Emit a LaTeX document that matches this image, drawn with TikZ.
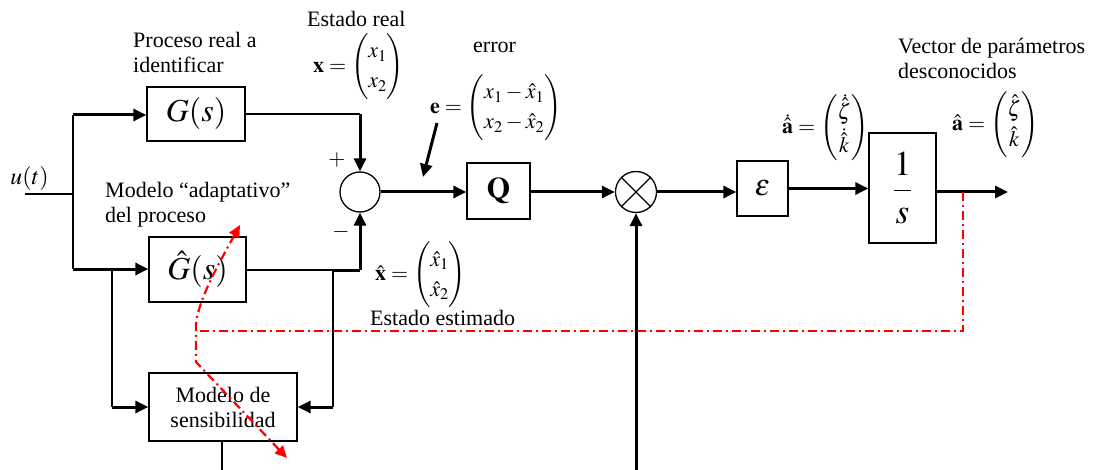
\documentclass[tikz,border=0pt]{standalone}
\usepackage{amsmath}
\usepackage{mathptmx}
\usepackage{fontspec}
\setmainfont{Liberation Serif}
\usetikzlibrary{arrows.meta}

\tikzset{
  thinln/.style={line width=1.3pt},
  thickarr/.style={line width=3pt, -{Triangle[length=13pt,width=12pt]}},
  blk/.style={draw, line width=1.3pt, inner sep=0pt, fill=white},
  junc/.style={draw, circle, line width=1.3pt, inner sep=0pt, minimum size=40pt, fill=white},
  lbl/.style={inner sep=0pt, align=left},
  tuning/.style={draw=red, line width=2.2pt, dash pattern=on 9pt off 4pt on 2pt off 4pt,
                 {Triangle[length=12pt,width=11pt,fill=red]}-{Triangle[length=12pt,width=11pt,fill=red]}},
  redln/.style={draw=red, line width=2.2pt, dash pattern=on 9pt off 4pt on 2pt off 4pt},
  big/.style={font=\fontsize{32}{36}\selectfont}
}

\begin{document}
\begin{tikzpicture}[x=1pt, y=-1pt, every node/.style={font=\fontsize{22}{25}\selectfont}]
\renewcommand{\arraystretch}{1.2}
\useasboundingbox (0,0) rectangle (1099,470);

% blocks
\node[blk, big, minimum width=98pt, minimum height=54pt] (G) at (196,114) {$G(s)$};
\node[blk, big, minimum width=97pt, minimum height=65pt] (Gh) at (197.5,269.5) {$\hat{G}(s)$};
\node[blk, minimum width=148pt, minimum height=68pt, align=center] (S) at (223,407) {Modelo de\\sensibilidad};
\node[junc] (sum) at (360,192) {};
\node[blk, font=\fontsize{30}{34}\selectfont, minimum width=63pt, minimum height=56pt] (Q) at (498.5,191) {$\mathbf{Q}$};
\node[junc, minimum size=41pt] (mult) at (636,192) {};
\draw[thinln] (mult.north west) -- (mult.south east) (mult.north east) -- (mult.south west);
\node[blk, font=\fontsize{30}{34}\selectfont, minimum width=51pt, minimum height=55pt] (eps) at (762.5,188.5) {$\varepsilon$};
\node[blk, font=\fontsize{35}{40}\selectfont, minimum width=67pt, minimum height=110pt] (int) at (902.5,188) {$\dfrac{1}{s}$};

% free ends and branch points
\coordinate (uin) at (25,194);
\coordinate (usplit) at (73,194);
\coordinate (utop) at (73,115);
\coordinate (ubot) at (73,269);
\coordinate (gcorner) at (360,114);
\coordinate (ghb) at (333,270);
\coordinate (ghcorner) at (360,270);
\coordinate (sl) at (112,269);
\coordinate (sldown) at (112,407);
\coordinate (shdown) at (333,407);
\coordinate (sout) at (222,470);
\coordinate (mulin) at (636,470);
\coordinate (aout) at (1008,192);
\coordinate (rtap) at (963,192);
\coordinate (rcorner) at (963,331);
\coordinate (rjoin) at (196,331);
\coordinate (ea1) at (437,123);
\coordinate (ea2) at (423,177);

% input distribution
\draw[thinln] (uin) -- (usplit);
\draw[thinln] (utop) -- (ubot);
\draw[thickarr] (utop) -- (G.west |- utop);
\draw[thickarr] (ubot) -- (Gh.west |- ubot);

% real process to summing junction
\draw[thinln] (G.east |- gcorner) -- (gcorner);
\draw[thickarr] (gcorner) -- (sum.north);

% adaptive model to summing junction
\draw[thinln] (Gh.east |- ghb) -- (ghb);
\draw[line width=3pt] (ghb) -- (ghcorner);
\draw[thickarr] (ghcorner) -- (sum.south);

% sensitivity model inputs
\draw[thinln] (sl) -- (sldown);
\draw[thickarr] (sldown) -- (S.west);
\draw[thinln] (ghb) -- (shdown);
\draw[thickarr] (shdown) -- (S.east);
\draw[thinln] (S.south -| sout) -- (sout);

% main chain
\draw[thickarr] (sum.east) -- (sum.east -| Q.west);
\draw[thickarr] (Q.east |- mult.west) -- (mult.west);
\draw[thickarr] (mulin) -- (mult.south);
\draw[thickarr] (mult.east) -- (mult.east -| eps.west);
\draw[thickarr] (eps.east) -- (eps.east -| int.west);
\draw[thickarr] (aout -| int.east) -- (aout);
\draw[thickarr] (ea1) -- (ea2);

% parameter feedback (red)
\draw[redln] (rtap) -- (rcorner) -- (rjoin);
\draw[tuning] (287,458) -- (196,362) -- (196,325) .. controls (198,300) and (218,265) .. (240,225);

% labels
\node[anchor=base, font=\fontsize{24}{28}\selectfont] at (29.5,185) {$u(t)$};
\node[lbl, anchor=north west] at (133,32) {Proceso real a\\identificar};
\node[lbl, anchor=base west] at (307,27) {Estado real};
\node[lbl, anchor=west] at (313,67) {$\mathbf{x}=\begin{pmatrix}x_1\\x_2\end{pmatrix}$};
\node[lbl, anchor=base west] at (473,53) {error};
\node[lbl, anchor=west] at (430,108) {$\mathbf{e}=\begin{pmatrix}x_1-\hat{x}_1\\x_2-\hat{x}_2\end{pmatrix}$};
\node[lbl, anchor=base] at (337,166) {$+$};
\node[lbl, anchor=base] at (341,237) {$-$};
\node[lbl, anchor=north west] at (105,182) {Modelo “adaptativo”\\del proceso};
\node[lbl, anchor=west] at (375,275) {$\hat{\mathbf{x}}=\begin{pmatrix}\hat{x}_1\\\hat{x}_2\end{pmatrix}$};
\node[lbl, anchor=base west] at (370,325) {Estado estimado};
\node[lbl, anchor=west] at (782,128) {$\dot{\hat{\mathbf{a}}}=\begin{pmatrix}\dot{\hat{\zeta}}\\\dot{\hat{k}}\end{pmatrix}$};
\node[lbl, anchor=west] at (952,125) {$\hat{\mathbf{a}}=\begin{pmatrix}\hat{\zeta}\\\hat{k}\end{pmatrix}$};
\node[lbl, anchor=north west] at (898,38) {Vector de parámetros\\desconocidos};
\end{tikzpicture}
\end{document}
